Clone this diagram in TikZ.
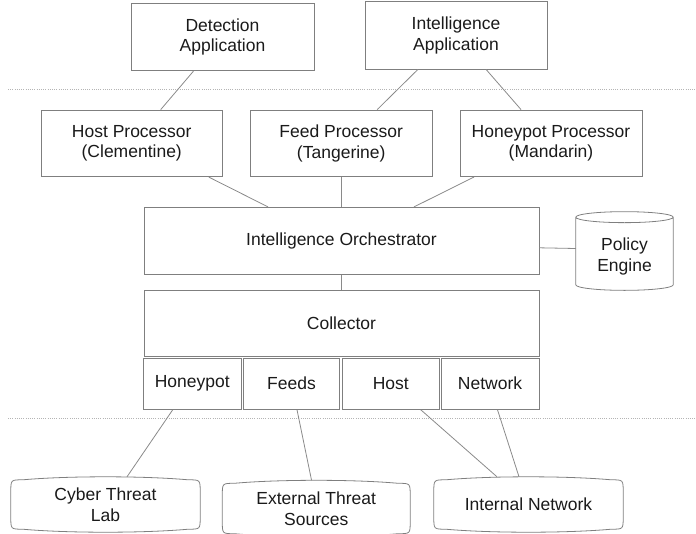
\documentclass[tikz,border=0pt]{standalone}
\usepackage{fontspec}
\setmainfont{Liberation Sans}
\usetikzlibrary{calc}
\definecolor{edgegray}{HTML}{7F7F7F}
\definecolor{linkgray}{HTML}{8A8A8A}
\definecolor{dotgray}{HTML}{B4B4B4}
\definecolor{txt}{HTML}{1A1A1A}
\tikzset{
  boxstyle/.style={draw=edgegray, line width=0.8pt, rectangle, align=center, text=txt, inner sep=0pt,
    font=\fontsize{17.5}{20.5}\selectfont},
  plain/.style={rectangle, align=center, text=txt, inner sep=0pt,
    font=\fontsize{17.5}{20.5}\selectfont},
  link/.style={draw=linkgray, line width=0.8pt},
  outline/.style={draw=edgegray, line width=0.8pt},
  sep/.style={draw=dotgray, line width=0.8pt, dash pattern=on 1pt off 1.2pt}
}
\newcommand\blobshape[1]{%
  \draw[outline] let \p1=(#1.north west), \p2=(#1.south east) in
   (\x1+12pt,\y1-3pt) .. controls (\x1+0.3*\x2-0.3*\x1,\y1+1pt) and (\x2-0.3*\x2+0.3*\x1,\y1+1pt) .. (\x2-12pt,\y1-3pt)
   .. controls (\x2,\y1-3pt) .. (\x2,\y1-15pt)
   -- (\x2,\y2+15pt)
   .. controls (\x2,\y2+3pt) .. (\x2-12pt,\y2+3pt)
   .. controls (\x2-0.3*\x2+0.3*\x1,\y2-1pt) and (\x1+0.3*\x2-0.3*\x1,\y2-1pt) .. (\x1+12pt,\y2+3pt)
   .. controls (\x1,\y2+3pt) .. (\x1,\y2+15pt)
   -- (\x1,\y1-15pt)
   .. controls (\x1,\y1-3pt) .. cycle;}
\begin{document}
\begin{tikzpicture}[x=1pt,y=-1pt]
\useasboundingbox (0,0) rectangle (696,533);
% separators
\draw[sep] (8,89.3) -- (696,89.3);
\draw[sep] (8,418.3) -- (696,418.3);
% top applications
\node[boxstyle, minimum width=183pt, minimum height=67.4pt] (det) at (222.5,37) {Detection\\Application};
\node[boxstyle, minimum width=182pt, minimum height=67.3pt] (iapp) at (456,35.3) {Intelligence\\Application};
% processors
\node[boxstyle, minimum width=181.5pt, minimum height=66.7pt] (hproc) at (131.75,143.3) {Host Processor\\(Clementine)};
\node[boxstyle, minimum width=181.5pt, minimum height=66.7pt] (fproc) at (341.25,143.3) {Feed Processor\\(Tangerine)};
\node[boxstyle, minimum width=182pt, minimum height=66.7pt] (hpproc) at (551,143.3) {Honeypot Processor\\(Mandarin)};
% orchestrator and collector
\node[boxstyle, minimum width=395pt, minimum height=67pt] (orch) at (341.5,240.8) {Intelligence Orchestrator};
\node[boxstyle, minimum width=395pt, minimum height=66.7pt] (coll) at (341.5,323.3) {Collector};
\node[boxstyle, minimum width=97.5pt, minimum height=51.3pt] (shp) at (192.25,383.7) {Honeypot};
\node[boxstyle, minimum width=96pt, minimum height=51.3pt] (sfd) at (291.5,383.7) {Feeds};
\node[boxstyle, minimum width=96.5pt, minimum height=51.3pt] (sho) at (390.75,383.7) {Host};
\node[boxstyle, minimum width=98pt, minimum height=51.3pt] (snw) at (490,383.7) {Network};
% policy engine cylinder (text sits slightly below the geometric centre)
\node[plain, minimum width=97pt, minimum height=78.3pt] (pe) at (624.5,256.5) {Policy\\Engine};
\draw[outline] let \p1=(pe.north west), \p2=(pe.south east) in
  (\x1,\y1) -- (\x1,\y2+11pt)
  arc[start angle=180, end angle=360, x radius={0.5*\x2-0.5*\x1}, y radius=5.5pt]
  -- (\x2,\y1)
  ({0.5*\x1+0.5*\x2},\y1) ellipse [x radius={0.5*\x2-0.5*\x1}, y radius=5.5pt];
% bottom sources
\node[plain, minimum width=189pt, minimum height=55pt] (ctl) at (105.5,504.5) {Cyber Threat\\Lab};
\node[plain, minimum width=187.5pt, minimum height=56pt] (ets) at (316.25,508.5) {External Threat\\Sources};
\node[plain, minimum width=189pt, minimum height=55pt] (inet) at (528.5,504.5) {Internal Network};
\blobshape{ctl}
\blobshape{ets}
\blobshape{inet}
% connectors
\draw[link] ([xshift=-29pt]det.south) -- ([xshift=29pt]hproc.north);
\draw[link] ([xshift=-38pt]iapp.south) -- ([xshift=36pt]fproc.north);
\draw[link] ([xshift=30pt]iapp.south) -- ([xshift=-30pt]hpproc.north);
\draw[link] ([xshift=77pt]hproc.south) -- ([xshift=-73.5pt]orch.north);
\draw[link] (fproc.south) -- (fproc.south |- orch.north);
\draw[link] ([xshift=-77pt]hpproc.south) -- ([xshift=72.5pt]orch.north);
\draw[link] (orch.south) -- (coll.north);
\draw[link] ([yshift=-7pt]orch.east) -- ([yshift=8pt]pe.west);
\draw[link] ([xshift=-19.5pt]shp.south) -- ([xshift=21.5pt]ctl.north);
\draw[link] ([xshift=5.5pt]sfd.south) -- ([xshift=-4.7pt]ets.north);
\draw[link] ([xshift=30pt]sho.south) -- ([xshift=-31.5pt]inet.north);
\draw[link] ([xshift=7.5pt]snw.south) -- ([xshift=-9.5pt]inet.north);
\end{tikzpicture}
\end{document}
